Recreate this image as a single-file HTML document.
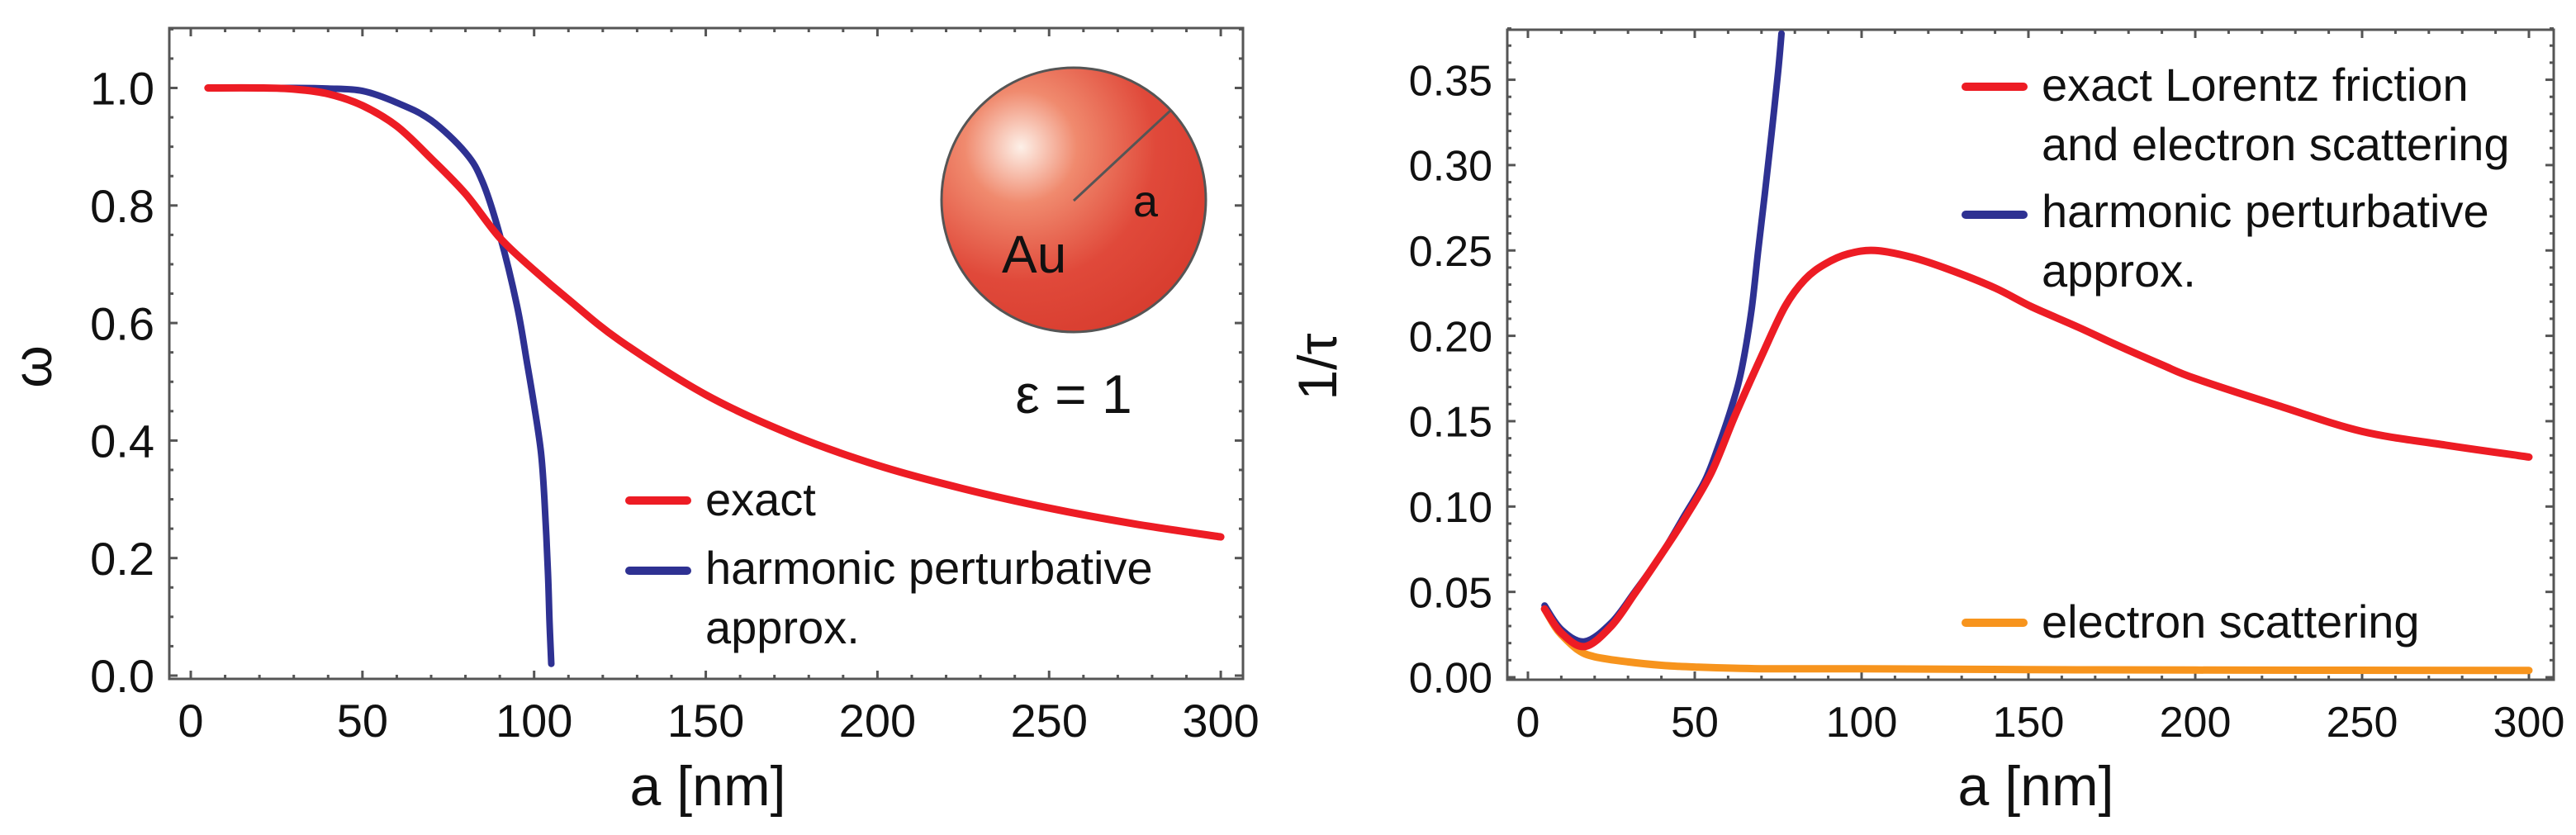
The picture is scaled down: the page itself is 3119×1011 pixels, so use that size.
<!DOCTYPE html>
<html><head><meta charset="utf-8"><style>
html,body{margin:0;padding:0;background:#fff;}
svg{display:block;font-family:"Liberation Sans",Arial,sans-serif;}
</style></head><body>
<svg id="chart" width="3119" height="1011" viewBox="0 0 3119 1011" xmlns="http://www.w3.org/2000/svg">
<defs>
<radialGradient id="sph" cx="0.3" cy="0.3" r="0.85">
<stop offset="0" stop-color="#fdf0e8"/>
<stop offset="0.25" stop-color="#f08a6e"/>
<stop offset="0.6" stop-color="#e0493a"/>
<stop offset="1" stop-color="#d63a2c"/>
</radialGradient>
</defs>
<g id="left"></g>
<g id="right"></g>
</svg>
<script>
// Left panel data
const leftTicksX = [0,50,100,150,200,250,300];
const leftTicksY = [0.0,0.2,0.4,0.6,0.8,1.0];
const leftTickLabelsY = ["0.0","0.2","0.4","0.6","0.8","1.0"];
const exactA = [5,20,30,40,50,60,70,80,90,100,110,125,150,175,200,225,250,275,300];
const exactW = [1.0,1.0,0.998,0.99,0.97,0.935,0.88,0.82,0.745,0.69,0.64,0.57,0.478,0.41,0.358,0.318,0.285,0.258,0.236];
const harmA = [5,30,40,50,60,70,80,85,90,95,98,100,102,103,104,104.5,105];
const harmW = [1.0,1.0,0.999,0.995,0.975,0.945,0.89,0.84,0.75,0.63,0.53,0.46,0.38,0.3,0.18,0.09,0.02];
// Right panel data
const rightTicksX = [0,50,100,150,200,250,300];
const rightTicksY = [0,0.05,0.10,0.15,0.20,0.25,0.30,0.35];
const rightTickLabelsY = ["0.00","0.05","0.10","0.15","0.20","0.25","0.30","0.35"];
const lorA = [5,10,17,25,32,40,47,55,62,70,77,83,89,96,104,115,126,140,151,165,176,190,200,225,250,275,300];
const lorV = [0.040,0.026,0.018,0.030,0.049,0.072,0.093,0.120,0.153,0.188,0.217,0.233,0.242,0.248,0.250,0.246,0.239,0.228,0.217,0.205,0.195,0.183,0.175,0.159,0.144,0.136,0.129];
const harm2A = [5,10,17,25,32,40,47,53,57,61,64,67,69,71,73,75,76];
const harm2V = [0.042,0.028,0.021,0.032,0.050,0.072,0.095,0.115,0.135,0.158,0.180,0.215,0.250,0.283,0.318,0.355,0.377];
const scatA = [5,8,10,15,20,30,40,50,70,100,150,200,300];
const scatV = [0.040,0.030,0.025,0.016,0.012,0.009,0.007,0.006,0.005,0.005,0.0045,0.0042,0.004];

const NS="http://www.w3.org/2000/svg";
function mk(parent,tag,attrs,text){const e=document.createElementNS(NS,tag);for(const k in attrs)e.setAttribute(k,attrs[k]);if(text!==undefined)e.textContent=text;parent.appendChild(e);return e;}

function smoothPath(pts){
  let d='M'+pts[0][0].toFixed(1)+','+pts[0][1].toFixed(1);
  for(let i=0;i<pts.length-1;i++){
    const p0=pts[i-1]||pts[i],p1=pts[i],p2=pts[i+1],p3=pts[i+2]||p2;
    const c1x=p1[0]+(p2[0]-p0[0])/6,c1y=p1[1]+(p2[1]-p0[1])/6;
    const c2x=p2[0]-(p3[0]-p1[0])/6,c2y=p2[1]-(p3[1]-p1[1])/6;
    d+=` C${c1x.toFixed(1)},${c1y.toFixed(1)} ${c2x.toFixed(1)},${c2y.toFixed(1)} ${p2[0].toFixed(1)},${p2[1].toFixed(1)}`;
  }
  return d;
}

function panel(g,cfg){
  const sx=v=>cfg.x0+(v-cfg.xmin)*cfg.xs;
  const sy=v=>cfg.y0-(v)*cfg.ys;
  const fr=mk(g,'rect',{x:cfg.L,y:cfg.T,width:cfg.R-cfg.L,height:cfg.B-cfg.T,fill:'none',stroke:'#555','stroke-width':3});
  
  
  for(let v=0;v<=300;v+=10){
    const major=v%50===0;const len=major?10:5;const x=sx(v);
    mk(g,'line',{x1:x,x2:x,y1:cfg.B,y2:cfg.B-len,stroke:'#555','stroke-width':3});
    mk(g,'line',{x1:x,x2:x,y1:cfg.T,y2:cfg.T+len,stroke:'#555','stroke-width':3});
  }
  for(let i=0;i*cfg.ymin_step<=cfg.ymax+1e-9;i++){
    const v=i*cfg.ymin_step;const major=i%cfg.majEvery===0;const len=major?10:5;const y=sy(v);
    mk(g,'line',{x1:cfg.L,x2:cfg.L+len,y1:y,y2:y,stroke:'#555','stroke-width':3});
    mk(g,'line',{x1:cfg.R,x2:cfg.R-len,y1:y,y2:y,stroke:'#555','stroke-width':3});
  }
  cfg.ticksX.forEach(v=>{
    const t=mk(g,'text',{x:sx(v),y:892,'font-size':cfg.tfs,'text-anchor':'middle',fill:'#111'},String(v));
    
    
  });
  cfg.ticksY.forEach((v,i)=>{
    const t=mk(g,'text',{x:cfg.L-18,y:sy(v)+cfg.tfs*0.36,'font-size':cfg.tfs,'text-anchor':'end',fill:'#111'},cfg.labelsY[i]);
    
    
  });
  const xt=mk(g,'text',{x:cfg.xtx,y:975,'font-size':68,'text-anchor':'middle',fill:'#111'},'a [nm]');
  
  
  const yt=mk(g,'text',{x:0,y:0,'font-size':66,'text-anchor':'middle',fill:'#111',transform:`translate(${cfg.ytx},444) rotate(-90)`},cfg.ytitle);
  
  
  const clipId='clip'+cfg.id;
  const cp=mk(g,'clipPath',{id:clipId});mk(cp,'rect',{x:cfg.L,y:cfg.T,width:cfg.R-cfg.L,height:cfg.B-cfg.T});
  cfg.series.forEach(s=>{
    const pts=s.a.map((a,i)=>[sx(a),sy(s.v[i])]);
    const p=mk(g,'path',{d:smoothPath(pts),fill:'none',stroke:s.c,'stroke-width':s.w,'stroke-linejoin':'round','stroke-linecap':'round','clip-path':`url(#${clipId})`});
    
    
  });
  return {sx,sy};
}

const gl=document.getElementById('left');
panel(gl,{id:'L',L:205,R:1505,T:34,B:822,x0:231,xmin:0,xs:4.157,y0:818,ys:711.5,ymin_step:0.05,ymax:1.1,majEvery:4,
  ticksX:leftTicksX,ticksY:leftTicksY,labelsY:leftTickLabelsY,tfs:56,xtx:857,ytx:62,ytitle:'ω',
  series:[{a:harmA,v:harmW,c:'#2e3192',w:8,name:'harmonic-curve'},{a:exactA,v:exactW,c:'#ed1c24',w:9,name:'exact-curve'}]});

const sph=mk(gl,'g',{});


mk(sph,'circle',{cx:1300,cy:242,r:160,fill:'url(#sph)',stroke:'#555','stroke-width':3});
mk(sph,'line',{x1:1300,y1:243,x2:1417,y2:134,stroke:'#555','stroke-width':3});
mk(sph,'text',{x:1372,y:262,'font-size':54,fill:'#111'},'a');
mk(sph,'text',{x:1213,y:330,'font-size':64,fill:'#111'},'Au');
const eps=mk(gl,'text',{x:1300,y:500,'font-size':66,'text-anchor':'middle',fill:'#111'},'ε = 1');



function legend(g,items){
  items.forEach(it=>{
    const grp=mk(g,'g',{});
    
    
    mk(grp,'line',{x1:it.x,x2:it.x+70,y1:it.ly,y2:it.ly,stroke:it.c,'stroke-width':10,'stroke-linecap':'round'});
    it.lines.forEach((t,i)=>mk(grp,'text',{x:it.x+92,y:it.by+i*72,'font-size':56,fill:'#111'},t));
  });
}
legend(gl,[{x:762,ly:606,by:624,c:'#ed1c24',lines:['exact']},{x:762,ly:691,by:707,c:'#2e3192',lines:['harmonic perturbative','approx.']}]);

const gr=document.getElementById('right');
panel(gr,{id:'R',L:1825,R:3092,T:36,B:823,x0:1850,xmin:0,xs:4.04,y0:820,ys:2067,ymin_step:0.01,ymax:0.38,majEvery:5,
  ticksX:rightTicksX,ticksY:rightTicksY,labelsY:rightTickLabelsY,tfs:52,xtx:2465,ytx:1618,ytitle:'1/τ',
  series:[{a:scatA,v:scatV,c:'#f7941d',w:9,name:'scattering-curve'},{a:harm2A,v:harm2V,c:'#2e3192',w:8,name:'harmonic-curve'},{a:lorA,v:lorV,c:'#ed1c24',w:9,name:'lorentz-curve'}]});
legend(gr,[{x:2380,ly:105,by:122,c:'#ed1c24',lines:['exact Lorentz friction','and electron scattering']},
  {x:2380,ly:260,by:275,c:'#2e3192',lines:['harmonic perturbative','approx.']},
  {x:2380,ly:754,by:772,c:'#f7941d',lines:['electron scattering']}]);
</script>
</body></html>
